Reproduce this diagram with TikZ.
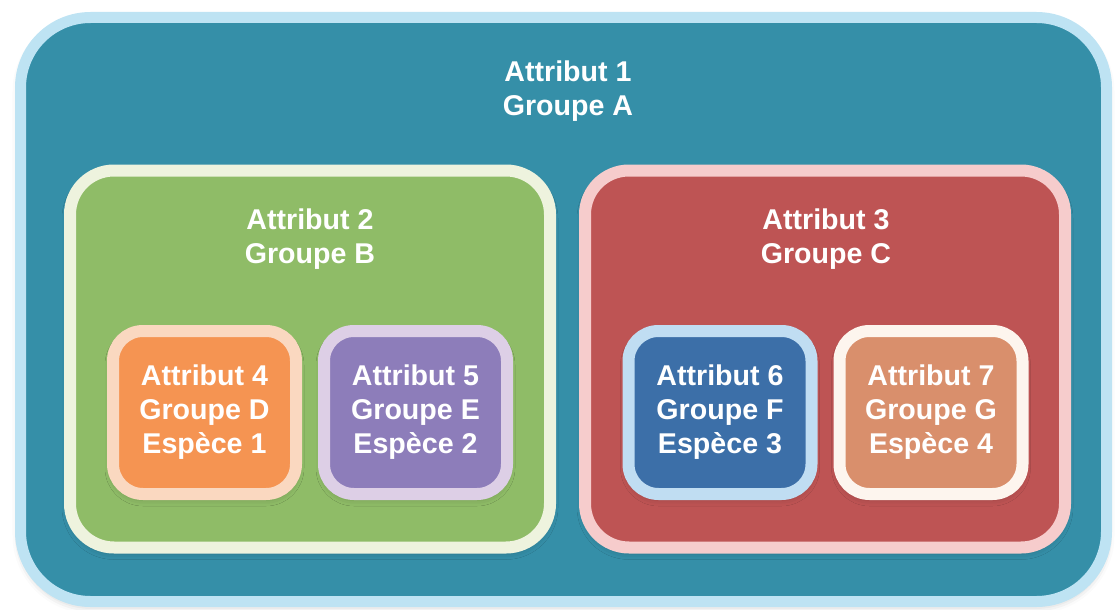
\documentclass[tikz,border=0pt]{standalone}
\usepackage{fontspec}
\setmainfont{Liberation Sans}
\usepackage{tikz}
\usetikzlibrary{positioning, shadows.blur}

\definecolor{tealA}{RGB}{53,143,168}
\definecolor{tealAbord}{RGB}{190,227,243}
\definecolor{vertB}{RGB}{143,188,103}
\definecolor{vertBbord}{RGB}{238,243,222}
\definecolor{rougeC}{RGB}{190,84,84}
\definecolor{rougeCbord}{RGB}{246,204,204}
\definecolor{orangeD}{RGB}{245,148,82}
\definecolor{orangeDbord}{RGB}{250,216,192}
\definecolor{violetE}{RGB}{141,125,186}
\definecolor{violetEbord}{RGB}{221,207,230}
\definecolor{bleuF}{RGB}{60,111,168}
\definecolor{bleuFbord}{RGB}{192,221,242}
\definecolor{brunG}{RGB}{217,143,108}
\definecolor{brunGbord}{RGB}{253,245,238}

\begin{document}
\begin{tikzpicture}[x=0.5pt, y=-0.5pt, every node/.style={inner sep=0pt, outer sep=0pt},
                    boite/.style={rectangle, line width=6pt, blur shadow={shadow xshift=0pt, shadow yshift=-2pt, shadow blur radius=4pt, shadow opacity=25}},
                    grand/.style={boite, minimum width=240pt, minimum height=188.5pt, rounded corners=22pt},
                    petit/.style={boite, minimum width=91.5pt, minimum height=81.5pt, rounded corners=15pt,
                                  text=white, font=\bfseries\fontsize{14.3}{17}\selectfont, align=center},
                    titre/.style={text=white, font=\bfseries\fontsize{14.3}{17}\selectfont, align=center}]
                \useasboundingbox (0,0) rectangle (1119,610);
                % groupe A
                \node[boite, draw=tealAbord, fill=tealA, line width=5.5pt, minimum width=543pt, minimum height=292pt, rounded corners=35pt] (A) at (563.5,309.5) {};
                \node[titre] (tA) at (568,91) {Attribut 1\\Groupe A};
                % groupes B et C
                \node[grand, draw=vertBbord, fill=vertB] (B) at (310,359) {};
                \node[titre] (tB) at (310,239) {Attribut 2\\Groupe B};
                \node[grand, draw=rougeCbord, fill=rougeC] (C) at (825,359) {};
                \node[titre] (tC) at (826,239) {Attribut 3\\Groupe C};
                % especes
                \node[petit, draw=orangeDbord, fill=orangeD] (D) at (204.5,412.5) {Attribut 4\\Groupe D\\Espèce 1};
                \node[petit, draw=violetEbord, fill=violetE, right=14pt of D] (E) {Attribut 5\\Groupe E\\Espèce 2};
                \node[petit, draw=bleuFbord, fill=bleuF] (F) at (720,412.5) {Attribut 6\\Groupe F\\Espèce 3};
                \node[petit, draw=brunGbord, fill=brunG, right=14pt of F] (G) {Attribut 7\\Groupe G\\Espèce 4};
            \end{tikzpicture}
\end{document}
